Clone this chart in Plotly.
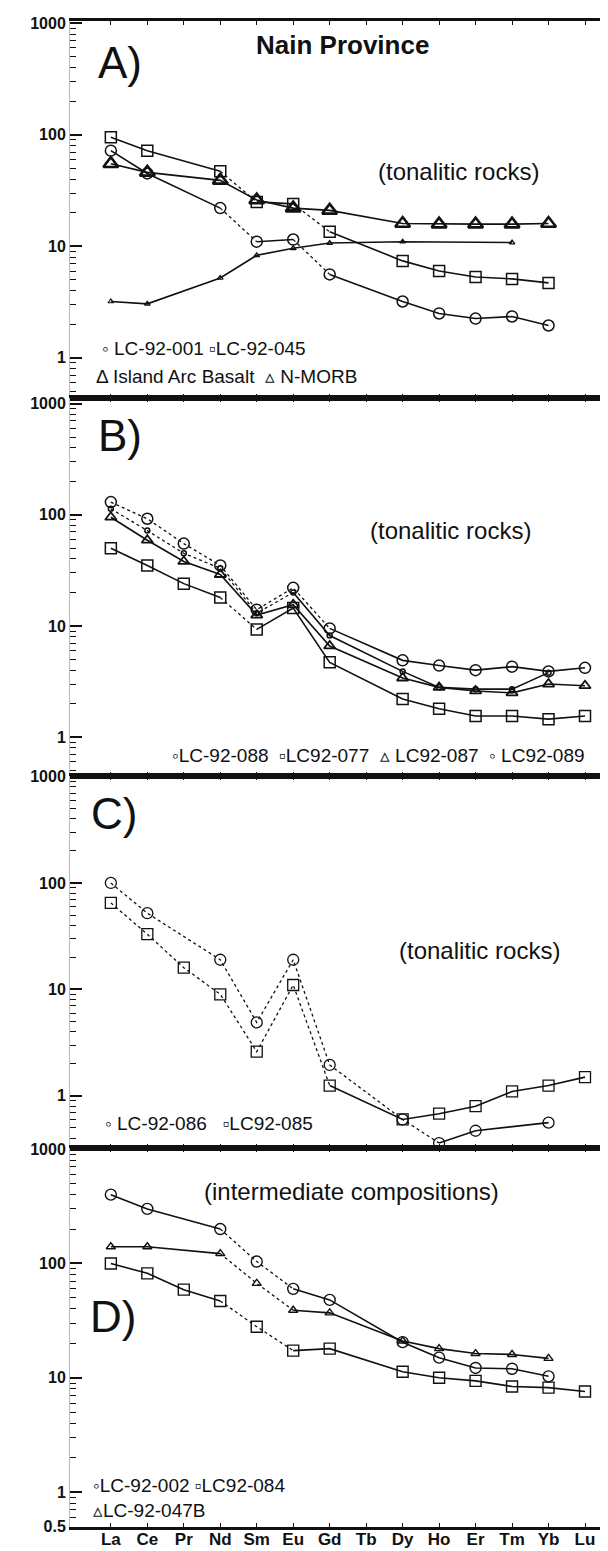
import plotly.graph_objects as go

REE = ["La", "Ce", "Pr", "Nd", "Sm", "Eu", "Gd", "Tb", "Dy", "Ho", "Er", "Tm", "Yb", "Lu"]

# ---- Panel A (chondrite-normalised) ----
a_lc92_001 = [72, 45, None, 22, 11, 11.5, 5.6, None, 3.2, 2.5, 2.25, 2.35, 1.95, None]
a_lc92_045 = [95, 72, None, 47, 25, 24, 13.5, None, 7.4, 6.0, 5.3, 5.1, 4.7, None]
a_iab = [55, 46, None, 39, 26, 22, 21, None, 16, 15.8, 15.8, 15.8, 16, None]
a_nmorb = [3.2, 3.05, None, 5.2, 8.3, 9.6, 10.7, None, 11, None, None, 10.8, None, None]

# ---- Panel B ----
b_lc92_088 = [130, 92, 55, 35, 14, 22, 9.5, None, 4.9, 4.4, 4.0, 4.3, 3.9, 4.2]
b_lc92_089 = [113, 72, 45, 33, 13, 20, 8.2, None, 3.9, 2.8, 2.7, 2.7, 3.8, None]
b_lc92_087 = [95, 59, 38, 29, 12.5, 15.5, 6.6, None, 3.4, 2.8, 2.6, 2.5, 3.0, 2.9]
b_lc92_077 = [50, 35, 24, 18, 9.3, 14.5, 4.7, None, 2.2, 1.8, 1.55, 1.55, 1.45, 1.55]

# ---- Panel C ----
c_lc92_086 = [100, 52, None, 19, 4.9, 19, 1.95, None, 0.6, 0.36, 0.47, None, 0.56, None]
c_lc92_085 = [65, 33, 16, 9, 2.6, 11, 1.25, None, 0.6, 0.68, 0.8, 1.1, 1.25, 1.5]

# ---- Panel D ----
d_lc92_002 = [400, 300, None, 200, 104, 60, 48, None, 20.5, 15, 12.2, 12, 10.3, None]
d_lc92_084 = [100, 82, 59, 47, 28, 17.3, 18, None, 11.3, 10, 9.4, 8.4, 8.2, 7.6]
d_lc92_047b = [140, 140, None, 122, 67, 39, 37, None, 21, 18, 16.3, 16, 14.8, None]

INK = "#111111"
FONT = "Liberation Sans, Arial, sans-serif"

W, H = 608, 1551
ML, MR, MT, MB = 62, 0, 13, 32
PLOT_W = W - ML - MR
PLOT_H = H - MT - MB
BOTTOM = H - MB
panels = {
    1: dict(top=13, bot=390, rng=[-0.36, 3.02]),
    2: dict(top=390, bot=768, rng=[-0.35, 3.05]),
    3: dict(top=768, bot=1140, rng=[-0.49, 3.005]),
    4: dict(top=1140, bot=1519, rng=[-0.305, 3.01]),
}

# series: panel, values, symbol, size, marker line width, segments drawn dotted (start element)
series = [
    (1, a_lc92_045, "square-open", 11, 1.5, ["Nd", "Eu"]),
    (1, a_lc92_001, "circle-open", 11, 1.5, ["Nd", "Eu"]),
    (1, a_iab, "triangle-up-open", 13, 2.6, []),
    (1, a_nmorb, "triangle-up-open", 5, 1.2, []),
    (2, b_lc92_088, "circle-open", 11, 1.5, ["La", "Ce", "Pr", "Nd", "Sm", "Eu"]),
    (2, b_lc92_089, "circle-open", 5, 1.5, ["La", "Ce", "Pr", "Nd", "Sm"]),
    (2, b_lc92_087, "triangle-up-open", 10, 1.8, []),
    (2, b_lc92_077, "square-open", 11, 1.5, ["Nd"]),
    (3, c_lc92_086, "circle-open", 11, 1.3, ["La", "Ce", "Nd", "Sm", "Eu", "Gd", "Dy"]),
    (3, c_lc92_085, "square-open", 11, 1.3, ["La", "Ce", "Pr", "Nd", "Sm", "Eu"]),
    (4, d_lc92_002, "circle-open", 11, 1.4, ["Nd", "Sm"]),
    (4, d_lc92_084, "square-open", 11, 1.4, ["Nd", "Sm"]),
    (4, d_lc92_047b, "triangle-up-open", 8, 1.4, ["Nd", "Sm"]),
]

fig = go.Figure()


def ax(p):
    return ("x" if p == 1 else f"x{p}"), ("y" if p == 1 else f"y{p}")


for p, vals, sym, size, mlw, dotted in series:
    xa, ya = ax(p)
    idx = [i for i, v in enumerate(vals) if v is not None]
    runs = []
    for a, b in zip(idx[:-1], idx[1:]):
        style = "dot" if REE[a] in dotted else "solid"
        if runs and runs[-1][0] == style and runs[-1][1][-1] == a:
            runs[-1][1].append(b)
        else:
            runs.append([style, [a, b]])
    for style, pts in runs:
        fig.add_trace(go.Scatter(
            x=[REE[k] for k in pts], y=[vals[k] for k in pts],
            mode="lines", xaxis=xa, yaxis=ya, showlegend=False, hoverinfo="skip",
            line=dict(color=INK, width=1.6 if style == "solid" else 1.3,
                      dash="solid" if style == "solid" else "dot"),
        ))
    fig.add_trace(go.Scatter(
        x=[REE[k] for k in idx], y=[vals[k] for k in idx],
        mode="markers", xaxis=xa, yaxis=ya, showlegend=False,
        marker=dict(symbol=sym, size=size, color=INK, line=dict(width=mlw, color=INK)),
    ))

major = [0.5, 1, 10, 100, 1000]
minor_vals = [m * 10 ** e for e in range(-1, 3) for m in range(2, 10)]

layout = dict(
    width=W, height=H, paper_bgcolor="white", plot_bgcolor="white",
    margin=dict(l=ML, r=MR, t=MT, b=MB, autoexpand=False), showlegend=False,
)
for p, g in panels.items():
    xk = "xaxis" if p == 1 else f"xaxis{p}"
    yk = "yaxis" if p == 1 else f"yaxis{p}"
    xa, ya = ax(p)
    d0 = (BOTTOM - g["bot"]) / PLOT_H
    d1 = (BOTTOM - g["top"]) / PLOT_H
    tv = [v for v in major if (p == 4 or v >= 1)]
    layout[xk] = dict(
        domain=[0, 1], anchor=ya, type="category", categoryorder="array", categoryarray=REE,
        range=[-1.12, 13.85], showline=True, linecolor=INK, linewidth=2.5, mirror="ticks",
        ticks="inside", ticklen=4, tickcolor=INK, showgrid=False, zeroline=False,
        showticklabels=(p == 4), automargin=False, ticklabelstandoff=-5,
        tickfont=dict(family=FONT, size=17, color=INK, weight="bold"),
    )
    layout[yk] = dict(
        domain=[max(d0, 0), min(d1, 1)], anchor=xa, type="log", range=g["rng"],
        showline=True, linecolor="#b8b8b8", linewidth=1, showgrid=False, zeroline=False,
        ticks="inside", ticklen=12, tickwidth=1.5, tickcolor=INK, mirror="ticks",
        tickvals=tv, ticktext=[("0.5" if v == 0.5 else str(v)) for v in tv],
        tickfont=dict(family=FONT, size=16, color=INK, weight="bold"), automargin=False,
        minor=dict(ticks="inside", ticklen=6, tickwidth=1.2, tickcolor=INK, tickvals=minor_vals),
    )
fig.update_layout(**layout)


def P(x, y):
    return (x - ML) / PLOT_W, (BOTTOM - y) / PLOT_H


def note(text, x, y, size, anchor="left", weight="normal", family=FONT):
    px, py = P(x, y)
    fig.add_annotation(
        text=text, x=px, y=py, xref="paper", yref="paper", showarrow=False,
        xanchor=anchor, yanchor="middle",
        font=dict(family=family, size=size, color=INK, weight=weight),
    )


note("Nain Province", 334, 37, 26, "center", "bold")
note("A)", 88, 55, 44)
note("B)", 88, 428, 44)
note("C)", 81, 805, 44)
note("D)", 80, 1308, 44)
note("(tonalitic rocks)", 450, 163, 24, "center")
note("(tonalitic rocks)", 442, 522, 24, "center")
note("(tonalitic rocks)", 471, 942, 24, "center")
note("(intermediate compositions)", 343, 1183, 24, "center")
note("◦ LC-92-001 ▫LC-92-045", 92, 340, 19)
note("Δ Island Arc Basalt  ▵ N-MORB", 86, 368, 19)
note("◦LC-92-088  ▫LC92-077  ▵ LC92-087  ◦ LC92-089", 579, 747, 19, "right")
note("◦ LC-92-086   ▫LC92-085", 95, 1115, 19)
note("◦LC-92-002 ▫LC92-084", 83, 1477, 19)
note("▵LC-92-047B", 83, 1502, 19)

fig.write_html("out.html")
